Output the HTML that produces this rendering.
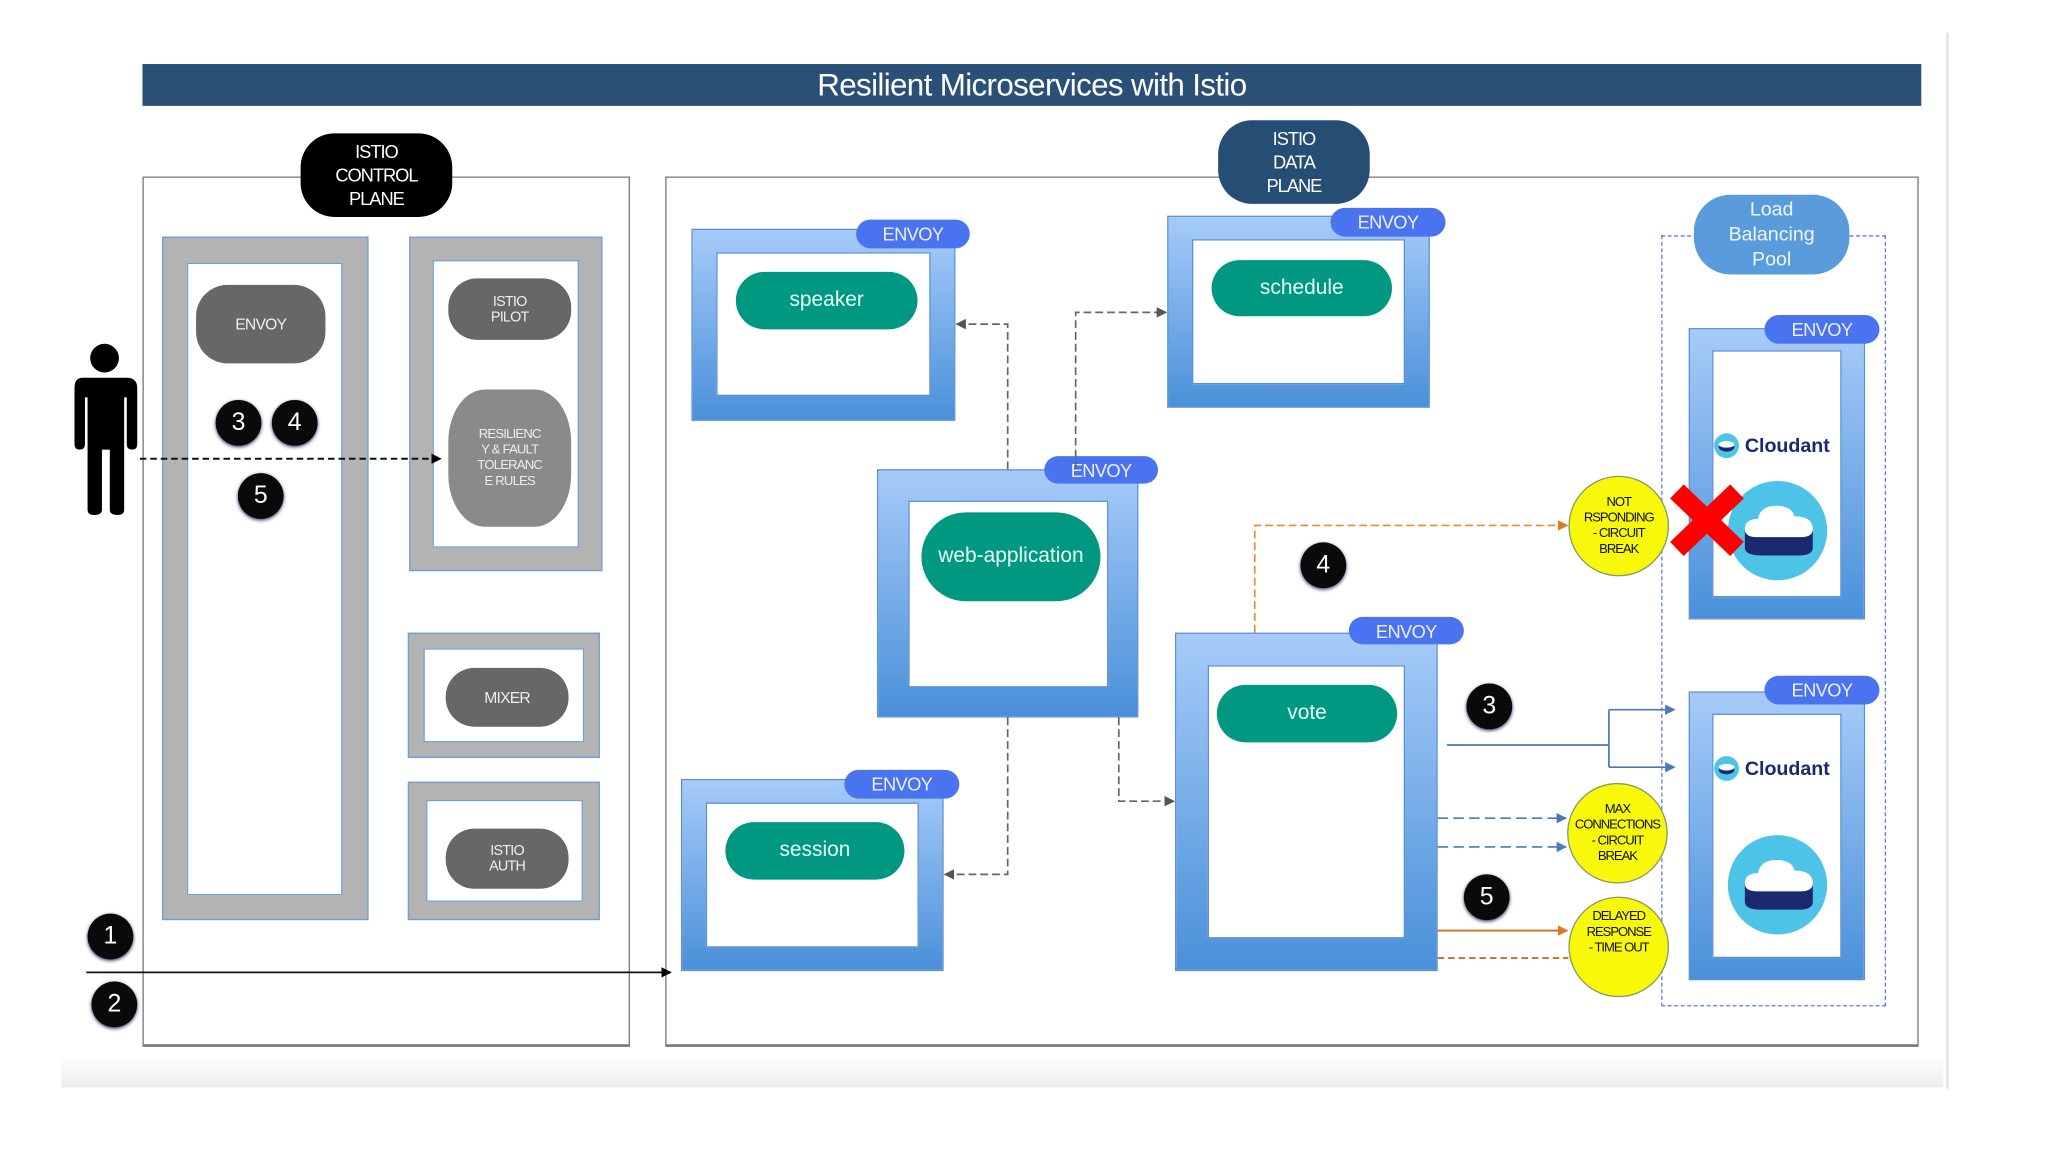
<!DOCTYPE html>
<html><head><meta charset="utf-8"><style>
html,body{margin:0;padding:0;background:#fff;}
body{width:2048px;height:1153px;overflow:hidden;position:relative;font-family:"Liberation Sans",sans-serif;}
#c{position:absolute;left:0;top:0;width:1567px;height:882px;transform:scale(1.307);transform-origin:0 0;}
.a{position:absolute;box-sizing:border-box;}
.gray{background:#b3b3b3;border:1px solid #6f9fd6;}
.white{background:#fff;border:1px solid #6f9fd6;}
.gp{background:#676767;color:#eee;display:flex;align-items:center;justify-content:center;text-align:center;border-radius:22px;font-size:11px;letter-spacing:-0.6px;line-height:12px;}
.blue{background:linear-gradient(#a6cbf9,#4a90d9);border:1px solid #5a8fd0;}
.bw{background:#fff;border:1px solid #5a8fd0;}
.tp{background:#009880;color:#e8fff8;display:flex;align-items:center;justify-content:center;border-radius:24px;font-size:16px;}
.env{background:#4a74ef;color:#eef;display:flex;align-items:center;justify-content:center;border-radius:12px;font-size:14px;letter-spacing:-0.5px;}
.num{background:#0a0a0a;color:#fff;border-radius:50%;display:flex;align-items:center;justify-content:center;font-size:19px;width:35px;height:35px;box-shadow:0 1px 3px #336;}
.yel{background:#f8f80a;border:1px solid #8a9a60;border-radius:50%;display:flex;align-items:center;justify-content:center;text-align:center;font-size:10px;line-height:12px;letter-spacing:-0.8px;color:#111;}
.cl{color:#1b2a6e;font-weight:bold;font-size:15px;}
</style></head><body><div id="c">
<div class="a" style="left:47px;top:808px;width:1440px;height:24px;background:linear-gradient(#fff,#ececec);"></div>
<div class="a" style="left:1489px;top:25px;width:2px;height:808px;background:#e4e4e4;"></div>
<div class="a" style="left:109px;top:49px;width:1361px;height:32px;background:#2a5078;color:#fff;font-size:24px;text-align:center;line-height:33px;letter-spacing:-0.5px;">Resilient Microservices with Istio</div>
<div class="a" style="left:109px;top:135px;width:373px;height:666px;border:1px solid #777;border-bottom:2px solid #777;"></div>
<div class="a" style="left:509px;top:135px;width:959px;height:666px;border:1px solid #777;border-bottom:2px solid #777;"></div>
<div class="a" style="left:230px;top:102px;width:116px;height:64px;background:#000;color:#fff;border-radius:26px;font-size:14px;line-height:18px;text-align:center;padding-top:5px;letter-spacing:-0.8px;">ISTIO<br>CONTROL<br>PLANE</div>
<div class="a" style="left:932px;top:92px;width:116px;height:64px;background:#264d73;color:#fff;border-radius:26px;font-size:14px;line-height:18px;text-align:center;padding-top:5px;letter-spacing:-0.8px;">ISTIO<br>DATA<br>PLANE</div>

<div class="a gray" style="left:124px;top:181px;width:158px;height:523px;"></div>
<div class="a white" style="left:143px;top:201px;width:119px;height:484px;"></div>
<div class="a gp" style="left:150px;top:218px;width:99px;height:60px;border-radius:24px;font-size:12px;">ENVOY</div>
<div class="a gray" style="left:313px;top:181px;width:148px;height:256px;"></div>
<div class="a white" style="left:331px;top:199px;width:112px;height:220px;"></div>
<div class="a gp" style="left:343px;top:213px;width:94px;height:47px;">ISTIO<br>PILOT</div>
<div class="a gp" style="left:343px;top:298px;width:94px;height:105px;border-radius:28px/40px;background:#8a8a8a;font-size:10px;">RESILIENC<br>Y &amp; FAULT<br>TOLERANC<br>E RULES</div>
<div class="a gray" style="left:312px;top:484px;width:147px;height:96px;"></div>
<div class="a white" style="left:324px;top:496px;width:123px;height:72px;"></div>
<div class="a gp" style="left:341px;top:511px;width:94px;height:45px;font-size:12px;">MIXER</div>
<div class="a gray" style="left:312px;top:598px;width:147px;height:106px;"></div>
<div class="a white" style="left:326px;top:612px;width:120px;height:78px;"></div>
<div class="a gp" style="left:341px;top:634px;width:94px;height:46px;">ISTIO<br>AUTH</div>

<svg class="a" style="left:55px;top:262px;" width="52" height="132" viewBox="0 0 52 132">
<circle cx="25" cy="12" r="11" fill="#000"/>
<path d="M8 27 H42 Q50 27 50 35 V78 Q50 82 46 82 Q42 82 42 78 V42 H40 V128 Q40 132 35 132 Q29 132 29 128 V82 H23 V128 Q23 132 17 132 Q12 132 12 128 V42 H10 V78 Q10 82 6 82 Q2 82 2 78 V35 Q2 27 8 27Z" fill="#000"/>
</svg>

<div class="a num" style="left:165px;top:306px;">3</div>
<div class="a num" style="left:208px;top:306px;">4</div>
<div class="a num" style="left:182px;top:362px;">5</div>
<div class="a num" style="left:67px;top:699px;">1</div>
<div class="a num" style="left:70px;top:751px;">2</div>

<div class="a blue" style="left:529px;top:175px;width:202px;height:147px;"></div>
<div class="a bw" style="left:548px;top:193px;width:164px;height:110px;"></div>
<div class="a tp" style="left:563px;top:208px;width:139px;height:44px;">speaker</div>
<div class="a env" style="left:655px;top:168px;width:87px;height:22px;">ENVOY</div>

<div class="a blue" style="left:893px;top:165px;width:201px;height:147px;"></div>
<div class="a bw" style="left:912px;top:183px;width:163px;height:111px;"></div>
<div class="a tp" style="left:927px;top:199px;width:138px;height:43px;">schedule</div>
<div class="a env" style="left:1018px;top:159px;width:88px;height:22px;">ENVOY</div>

<div class="a blue" style="left:671px;top:359px;width:200px;height:190px;"></div>
<div class="a bw" style="left:695px;top:383px;width:153px;height:143px;"></div>
<div class="a tp" style="left:705px;top:392px;width:137px;height:68px;border-radius:34px;">web-application</div>
<div class="a env" style="left:799px;top:349px;width:87px;height:21px;">ENVOY</div>

<div class="a blue" style="left:521px;top:596px;width:201px;height:147px;"></div>
<div class="a bw" style="left:540px;top:614px;width:163px;height:111px;"></div>
<div class="a tp" style="left:555px;top:629px;width:137px;height:44px;">session</div>
<div class="a env" style="left:646px;top:589px;width:88px;height:22px;">ENVOY</div>

<div class="a blue" style="left:899px;top:484px;width:201px;height:259px;"></div>
<div class="a bw" style="left:924px;top:509px;width:151px;height:209px;"></div>
<div class="a tp" style="left:931px;top:524px;width:138px;height:44px;">vote</div>
<div class="a env" style="left:1032px;top:472px;width:88px;height:21px;">ENVOY</div>

<div class="a" style="left:1271px;top:180px;width:172px;height:590px;border:1px dashed #5a7ce8;"></div>
<div class="a" style="left:1296px;top:149px;width:119px;height:61px;background:#5a9bdc;color:#eef6ff;border-radius:28px;font-size:15px;line-height:19px;text-align:center;padding-top:2px;">Load<br>Balancing<br>Pool</div>

<div class="a blue" style="left:1292px;top:251px;width:135px;height:223px;"></div>
<div class="a bw" style="left:1310px;top:268px;width:99px;height:189px;"></div>
<div class="a env" style="left:1350px;top:241px;width:88px;height:22px;">ENVOY</div>
<div class="a blue" style="left:1292px;top:529px;width:135px;height:221px;"></div>
<div class="a bw" style="left:1310px;top:546px;width:99px;height:187px;"></div>
<div class="a env" style="left:1350px;top:517px;width:88px;height:22px;">ENVOY</div>

<div class="a" style="left:1311px;top:331px;display:flex;align-items:center;"><svg width="20" height="20"><circle cx="10" cy="10" r="9.5" fill="#4ec3e8"/><ellipse cx="10" cy="11" rx="6" ry="3.5" fill="#1b2a6e"/><ellipse cx="10" cy="9" rx="6" ry="2.5" fill="#fff"/></svg><span class="cl" style="margin-left:4px;">Cloudant</span></div>
<div class="a" style="left:1311px;top:578px;display:flex;align-items:center;"><svg width="20" height="20"><circle cx="10" cy="10" r="9.5" fill="#4ec3e8"/><ellipse cx="10" cy="11" rx="6" ry="3.5" fill="#1b2a6e"/><ellipse cx="10" cy="9" rx="6" ry="2.5" fill="#fff"/></svg><span class="cl" style="margin-left:4px;">Cloudant</span></div>
<svg class="a" style="left:1321px;top:367px;" width="78" height="78"><circle cx="39" cy="39" r="38" fill="#4ec3e8"/><path d="M14 38 V52 Q14 58 27 58 H55 Q66 58 66 52 V38Z" fill="#1b2a6e"/><path d="M14 38 Q14 30 24 30 Q26 20 38 20 Q50 20 52 28 Q66 28 66 38 Q66 44 56 44 H24 Q14 44 14 38Z" fill="#fff"/></svg>
<svg class="a" style="left:1321px;top:638px;" width="78" height="78"><circle cx="39" cy="39" r="38" fill="#4ec3e8"/><path d="M14 38 V52 Q14 58 27 58 H55 Q66 58 66 52 V38Z" fill="#1b2a6e"/><path d="M14 38 Q14 30 24 30 Q26 20 38 20 Q50 20 52 28 Q66 28 66 38 Q66 44 56 44 H24 Q14 44 14 38Z" fill="#fff"/></svg>

<svg class="a" style="left:0;top:0;" width="1563" height="880">
<defs>
<marker id="mk" markerWidth="8" markerHeight="8" refX="7" refY="4" orient="auto" markerUnits="userSpaceOnUse"><path d="M0 0 L8 4 L0 8Z" fill="#555"/></marker>
<marker id="mkk" markerWidth="8" markerHeight="8" refX="7" refY="4" orient="auto" markerUnits="userSpaceOnUse"><path d="M0 0 L8 4 L0 8Z" fill="#000"/></marker>
<marker id="mb" markerWidth="8" markerHeight="8" refX="7" refY="4" orient="auto" markerUnits="userSpaceOnUse"><path d="M0 0 L8 4 L0 8Z" fill="#4a7ab8"/></marker>
<marker id="mo" markerWidth="8" markerHeight="8" refX="7" refY="4" orient="auto" markerUnits="userSpaceOnUse"><path d="M0 0 L8 4 L0 8Z" fill="#e07a20"/></marker>
</defs>
<g fill="none" stroke="#666" stroke-width="1.3" stroke-dasharray="6,3">
<path d="M771 359 V248 H732" marker-end="url(#mk)"/>
<path d="M823 359 V239 H892" marker-end="url(#mk)"/>
<path d="M771 549 V669 H723" marker-end="url(#mk)"/>
<path d="M856 549 V613 H898" marker-end="url(#mk)"/>
</g>
<path d="M107 351 H337" stroke="#111" stroke-width="1.5" stroke-dasharray="5,3" fill="none" marker-end="url(#mkk)"/>
<path d="M66 744 H513" stroke="#111" stroke-width="1.3" fill="none" marker-end="url(#mkk)"/>
<path d="M960 484 V402 H1199" stroke="#e88a30" stroke-width="1.3" stroke-dasharray="6,3" fill="none" marker-end="url(#mo)"/>
<g fill="none" stroke="#4a7ab8" stroke-width="1.3">
<path d="M1107 570 H1231 M1231 543 V587"/>
<path d="M1231 543 H1281" marker-end="url(#mb)"/>
<path d="M1231 587 H1281" marker-end="url(#mb)"/>
<path d="M1100 626 H1198" stroke-dasharray="8,4" marker-end="url(#mb)"/>
<path d="M1100 648 H1198" stroke-dasharray="8,4" marker-end="url(#mb)"/>
</g>
<path d="M1100 712 H1199" stroke="#d06a20" stroke-width="1.4" fill="none" marker-end="url(#mo)"/>
<path d="M1100 733 H1200" stroke="#d06a20" stroke-width="1.4" stroke-dasharray="5,3" fill="none"/>
</svg>

<div class="a yel" style="left:1200px;top:364px;width:77px;height:77px;">NOT<br>RSPONDING<br>- CIRCUIT<br>BREAK</div>
<div class="a yel" style="left:1199px;top:599px;width:77px;height:77px;">MAX<br>CONNECTIONS<br>- CIRCUIT<br>BREAK</div>
<div class="a yel" style="left:1200px;top:686px;width:77px;height:77px;align-items:flex-start;padding-top:9px;">DELAYED<br>RESPONSE<br>- TIME OUT</div>

<svg class="a" style="left:1277px;top:370px;" width="58" height="56"><path d="M6 6 L52 50 M52 6 L6 50" stroke="#f00" stroke-width="15"/></svg>

<div class="a num" style="left:995px;top:415px;">4</div>
<div class="a num" style="left:1122px;top:523px;">3</div>
<div class="a num" style="left:1120px;top:669px;">5</div>
</div></body></html>
